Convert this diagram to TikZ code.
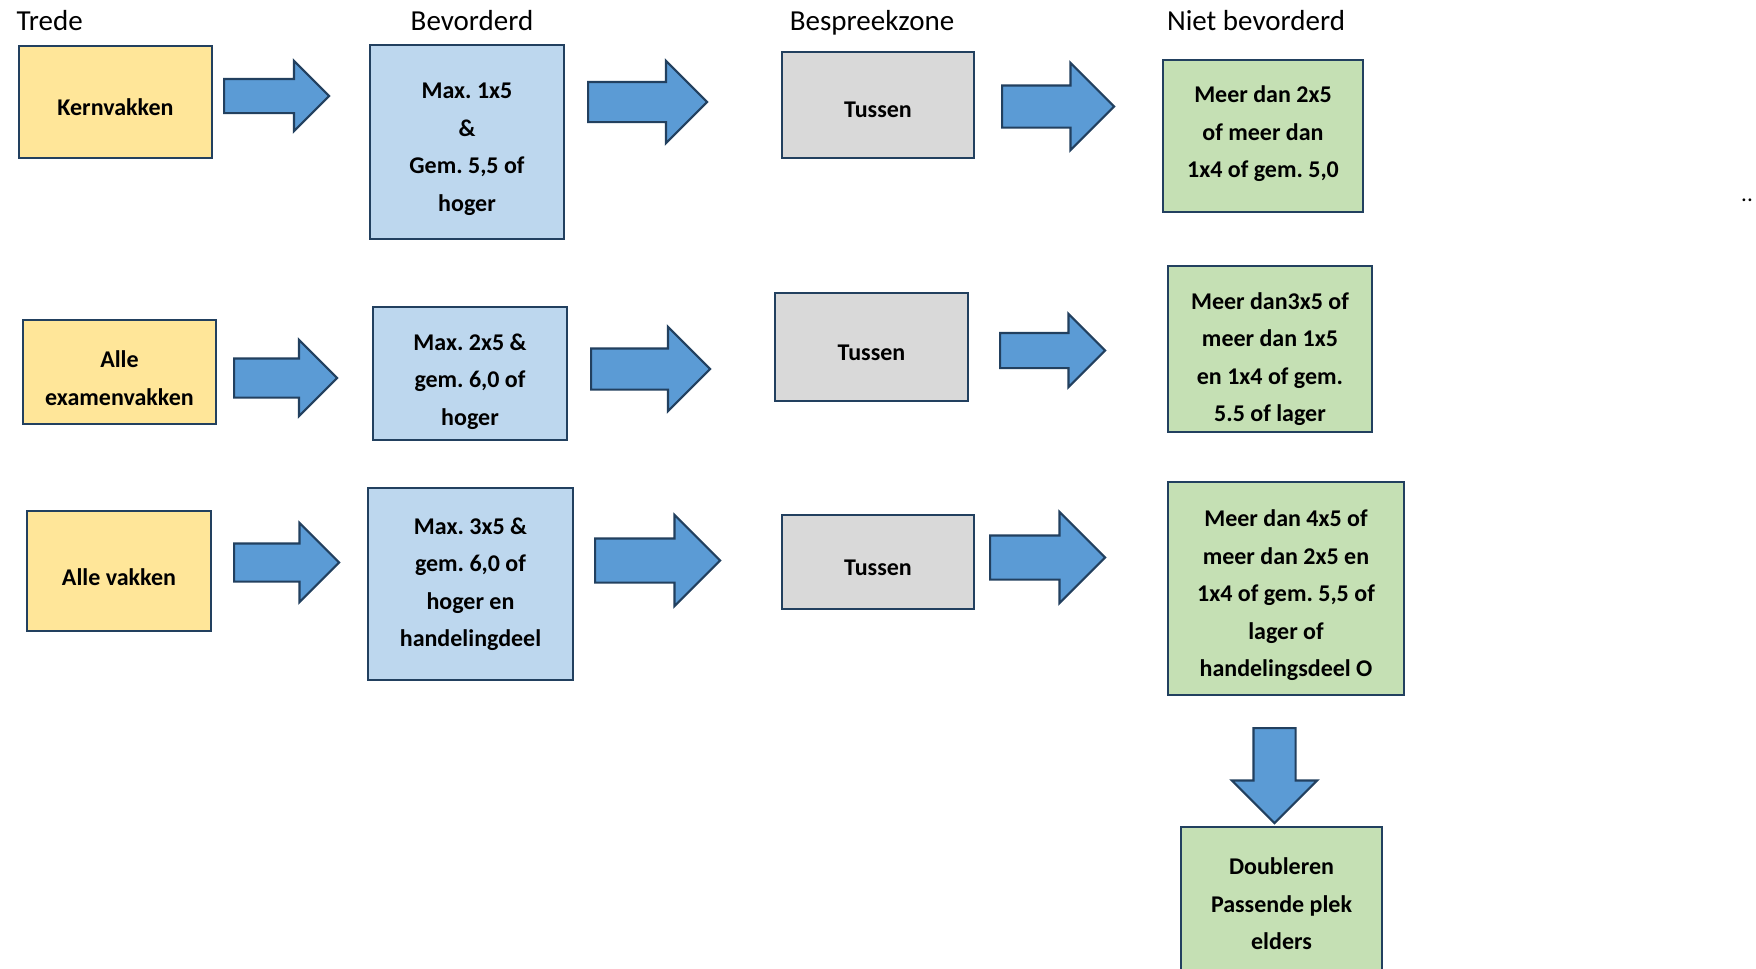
\documentclass[tikz,border=0pt]{standalone}
\usepackage{fontspec}
\setmainfont{Carlito}
\usepackage{tikz}
\usetikzlibrary{shapes.arrows}
\frenchspacing
\definecolor{edgeblue}{HTML}{22405F}
\definecolor{arrowblue}{HTML}{5B9BD5}
\definecolor{softyellow}{HTML}{FFE699}
\definecolor{softblue}{HTML}{BDD7EE}
\definecolor{softgrey}{HTML}{D9D9D9}
\definecolor{softgreen}{HTML}{C5E0B4}

\begin{document}
\begin{tikzpicture}[
  x=1pt, y=-1pt,
  box/.style={rectangle, draw=edgeblue, line width=2.6pt, inner sep=0pt},
  stage/.style={box, fill=softyellow},
  promo/.style={box, fill=softblue},
  talk/.style={box, fill=softgrey},
  fail/.style={box, fill=softgreen},
  boxtext/.style={inner sep=0pt, align=center, font=\bfseries\fontsize{24}{37.5}\selectfont},
  head/.style={anchor=base, font=\fontsize{29}{34}\selectfont},
  barrow/.style n args={3}{single arrow, anchor=tail, single arrow tip angle=90,
    single arrow head extend=(#2-#3)/2, draw=edgeblue, fill=arrowblue, line width=2.2pt,
    inner xsep=0pt, inner ysep=#3/2, minimum width=0pt, minimum height=#1}
]
\useasboundingbox (0,0) rectangle (1756,969);
\clip (0,0) rectangle (1756,969);
\fill[white] (0,0) rectangle (1756,969);

% column titles
\node[head, anchor=base west] (hstage) at (13,30) {Trede};
\node[head] (hpromo) at (472,30) {Bevorderd};
\node[head] (htalk) at (872,30) {Bespreekzone};
\node[head] (hfail) at (1256,30) {Niet bevorderd};

% row 1
\node[stage, minimum width=193pt, minimum height=112pt] (kern) at (115.5,102) {};
\node[boxtext, yshift=-5pt] (kern-t) at (kern) {Kernvakken};
\node[promo, minimum width=194pt, minimum height=194pt] (bev1) at (467,142) {};
\node[boxtext, yshift=-7pt] (bev1-t) at (bev1) {Max. 1x5\\\&\\Gem. 5,5 of\\hoger};
\node[talk, minimum width=192pt, minimum height=106pt] (tus1) at (878,105) {};
\node[boxtext, yshift=-5pt] (tus1-t) at (tus1) {Tussen};
\node[fail, minimum width=200pt, minimum height=152pt] (niet1) at (1263,136) {};
\node[boxtext, yshift=2pt] (niet1-t) at (niet1) {Meer dan 2x5\\of meer dan\\1x4 of gem. 5,0};

% row 2
\node[stage, minimum width=193pt, minimum height=104pt] (exam) at (119.5,372) {};
\node[boxtext, yshift=-6pt] (exam-t) at (exam) {Alle\\examenvakken};
\node[promo, minimum width=194pt, minimum height=133pt] (bev2) at (470,373.5) {};
\node[boxtext, yshift=-8pt] (bev2-t) at (bev2) {Max. 2x5 \&\\gem. 6,0 of\\hoger};
\node[talk, minimum width=193pt, minimum height=108pt] (tus2) at (871.5,347) {};
\node[boxtext, yshift=-6pt] (tus2-t) at (tus2) {Tussen};
\node[fail, minimum width=204pt, minimum height=166pt] (niet2) at (1270,349) {};
\node[boxtext, yshift=-10pt] (niet2-t) at (niet2) {Meer dan3x5 of\\meer dan 1x5\\en 1x4 of gem.\\5.5 of lager};

% row 3
\node[stage, minimum width=184pt, minimum height=120pt] (vak) at (119,571) {};
\node[boxtext, yshift=-6pt] (vak-t) at (vak) {Alle vakken};
\node[promo, minimum width=205pt, minimum height=192pt] (bev3) at (470.5,584) {};
\node[boxtext] (bev3-t) at (bev3) {Max. 3x5 \&\\gem. 6,0 of\\hoger en\\handelingdeel};
\node[talk, minimum width=192pt, minimum height=94pt] (tus3) at (878,562) {};
\node[boxtext, yshift=-6pt] (tus3-t) at (tus3) {Tussen};
\node[fail, minimum width=236pt, minimum height=213pt] (niet3) at (1286,588.5) {};
\node[boxtext, yshift=-7pt] (niet3-t) at (niet3) {Meer dan 4x5 of\\meer dan 2x5 en\\1x4 of gem. 5,5 of\\lager of\\handelingsdeel O};

\node[fail, minimum width=201pt, minimum height=158pt] (doub) at (1281.5,906) {};
\node[boxtext, yshift=2pt] (doub-t) at (doub) {Doubleren\\Passende plek\\elders};

% block arrows
\node[barrow={105pt}{68pt}{32pt}] (a11) at (223,96) {};
\node[barrow={119pt}{80pt}{38pt}] (a12) at (587,102) {};
\node[barrow={112pt}{85pt}{40pt}] (a13) at (1001,106.5) {};
\node[barrow={103pt}{74pt}{37pt}] (a21) at (233,378) {};
\node[barrow={119pt}{82pt}{39pt}] (a22) at (590,369) {};
\node[barrow={105pt}{71pt}{33pt}] (a23) at (999,350.5) {};
\node[barrow={105pt}{77pt}{36pt}] (a31) at (233,562.5) {};
\node[barrow={125pt}{89pt}{42pt}] (a32) at (594,560.5) {};
\node[barrow={115pt}{89pt}{42pt}] (a33) at (989,557.5) {};
\node[barrow={95pt}{83pt}{40pt}, rotate=-90] (adown) at (1274.5,727) {};

\node[anchor=base west, inner sep=0pt, font=\fontsize{23}{28}\selectfont] (more) at (1741,201) {..};
\end{tikzpicture}
\end{document}
